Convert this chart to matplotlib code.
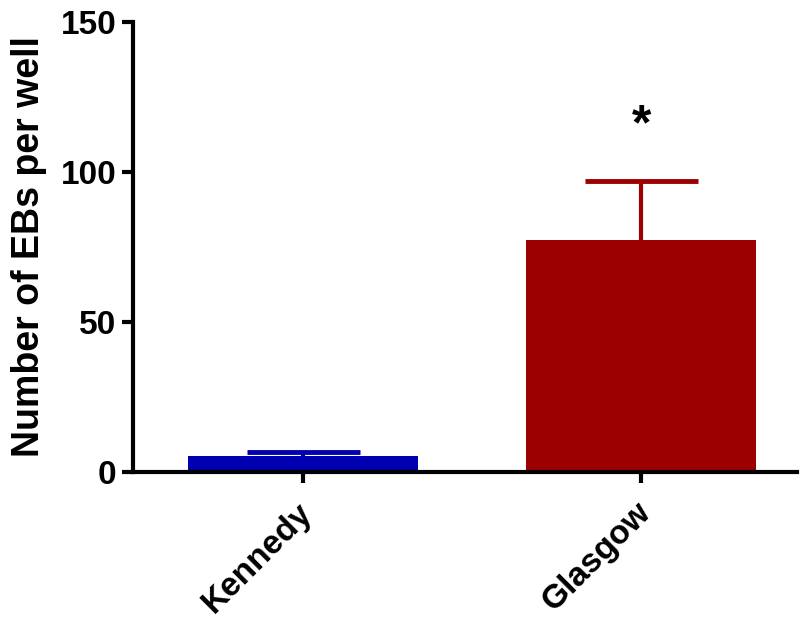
import matplotlib
matplotlib.use("Agg")
import matplotlib.pyplot as plt
import matplotlib.transforms as mtransforms

# EB counts per well for the two lines
groups = ["Kennedy", "Glasgow"]
means = [5.2, 77.3]
sems = [1.4, 19.8]
colors = ["#0000b0", "#9c0000"]
sig_marks = ["", "*"]

plt.rcParams["font.family"] = ["Liberation Sans", "DejaVu Sans"]
plt.rcParams["font.weight"] = "bold"

fig = plt.figure(figsize=(8.01, 6.19), dpi=100)
ax = fig.add_axes([0.166, 0.2375, 0.829, 0.727])

x = list(range(len(groups)))
ax.bar(x, means, width=0.68, color=colors, zorder=2)

# upper error bars only, cap drawn in data units
cap = 0.167
for xi, m, s, c in zip(x, means, sems, colors):
    ax.plot([xi, xi], [m, m + s], color=c, lw=3, zorder=1, solid_capstyle="butt")
    ax.plot([xi - cap, xi + cap], [m + s, m + s], color=c, lw=3.5, zorder=1,
            solid_capstyle="butt")
    if sig_marks[xi]:
        ax.text(xi, m + s + 18, sig_marks[xi], ha="center", va="center",
                fontsize=36, fontweight="bold")

ax.set_xlim(-0.503, 1.46)
ax.set_ylim(0, 150)
ax.set_yticks([0, 50, 100, 150])
ax.set_xticks(x)
ax.set_xticklabels(groups, rotation=45, ha="right", rotation_mode="anchor",
                   fontsize=24)
ax.set_ylabel("Number of EBs per well", fontsize=27, fontweight="bold", labelpad=10)

for side in ["top", "right"]:
    ax.spines[side].set_visible(False)
for side in ["left", "bottom"]:
    ax.spines[side].set_linewidth(3)
ax.tick_params(axis="both", width=3, length=8, pad=4)
ax.tick_params(axis="x", pad=10)
ax.tick_params(axis="y", labelsize=24)

# nudge rotated labels slightly left
shift = mtransforms.ScaledTranslation(-6 / 100, 0, fig.dpi_scale_trans)
for lbl in ax.get_xticklabels():
    lbl.set_transform(lbl.get_transform() + shift)

fig.savefig("out.png", dpi=100)
